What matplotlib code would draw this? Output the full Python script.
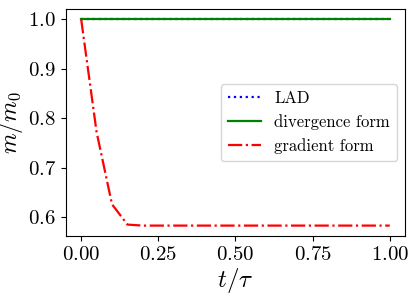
import matplotlib
matplotlib.use("Agg")
import matplotlib.pyplot as plt

t = [0.00, 0.05, 0.10, 0.15, 0.20, 0.25, 0.30, 0.35, 0.40, 0.45, 0.50,
     0.55, 0.60, 0.65, 0.70, 0.75, 0.80, 0.85, 0.90, 0.95, 1.00]
lad = [1.0] * 21
divergence = [1.0] * 21
gradient = [1.0, 0.772, 0.626, 0.585, 0.583, 0.583, 0.583, 0.583, 0.583, 0.583, 0.583,
            0.583, 0.583, 0.583, 0.583, 0.583, 0.583, 0.583, 0.583, 0.583, 0.583]

plt.rcParams.update({
    "font.family": "serif",
    "font.serif": ["cmr10"],
    "mathtext.fontset": "cm",
    "axes.formatter.use_mathtext": True,
    "axes.unicode_minus": False,
})

fig, ax = plt.subplots(figsize=(4.16, 2.96), dpi=100)
ax.plot(t, lad, color="blue", linestyle=":", linewidth=1.6, label="LAD")
ax.plot(t, divergence, color="green", linestyle="-", linewidth=1.6, label="divergence form")
ax.plot(t, gradient, color="red", linestyle="-.", linewidth=1.6, label="gradient form")

ax.set_xticks([0.0, 0.25, 0.5, 0.75, 1.0])
ax.set_yticks([0.6, 0.7, 0.8, 0.9, 1.0])
ax.tick_params(labelsize=15)
ax.set_xlabel(r"$t/\tau$", fontsize=18, labelpad=2)
ax.set_ylabel(r"$m/m_0$", fontsize=17, labelpad=2)
ax.legend(loc="center right", fontsize=12)

fig.subplots_adjust(left=0.158, right=0.974, top=0.97, bottom=0.203)
fig.savefig("out.png", dpi=100)
